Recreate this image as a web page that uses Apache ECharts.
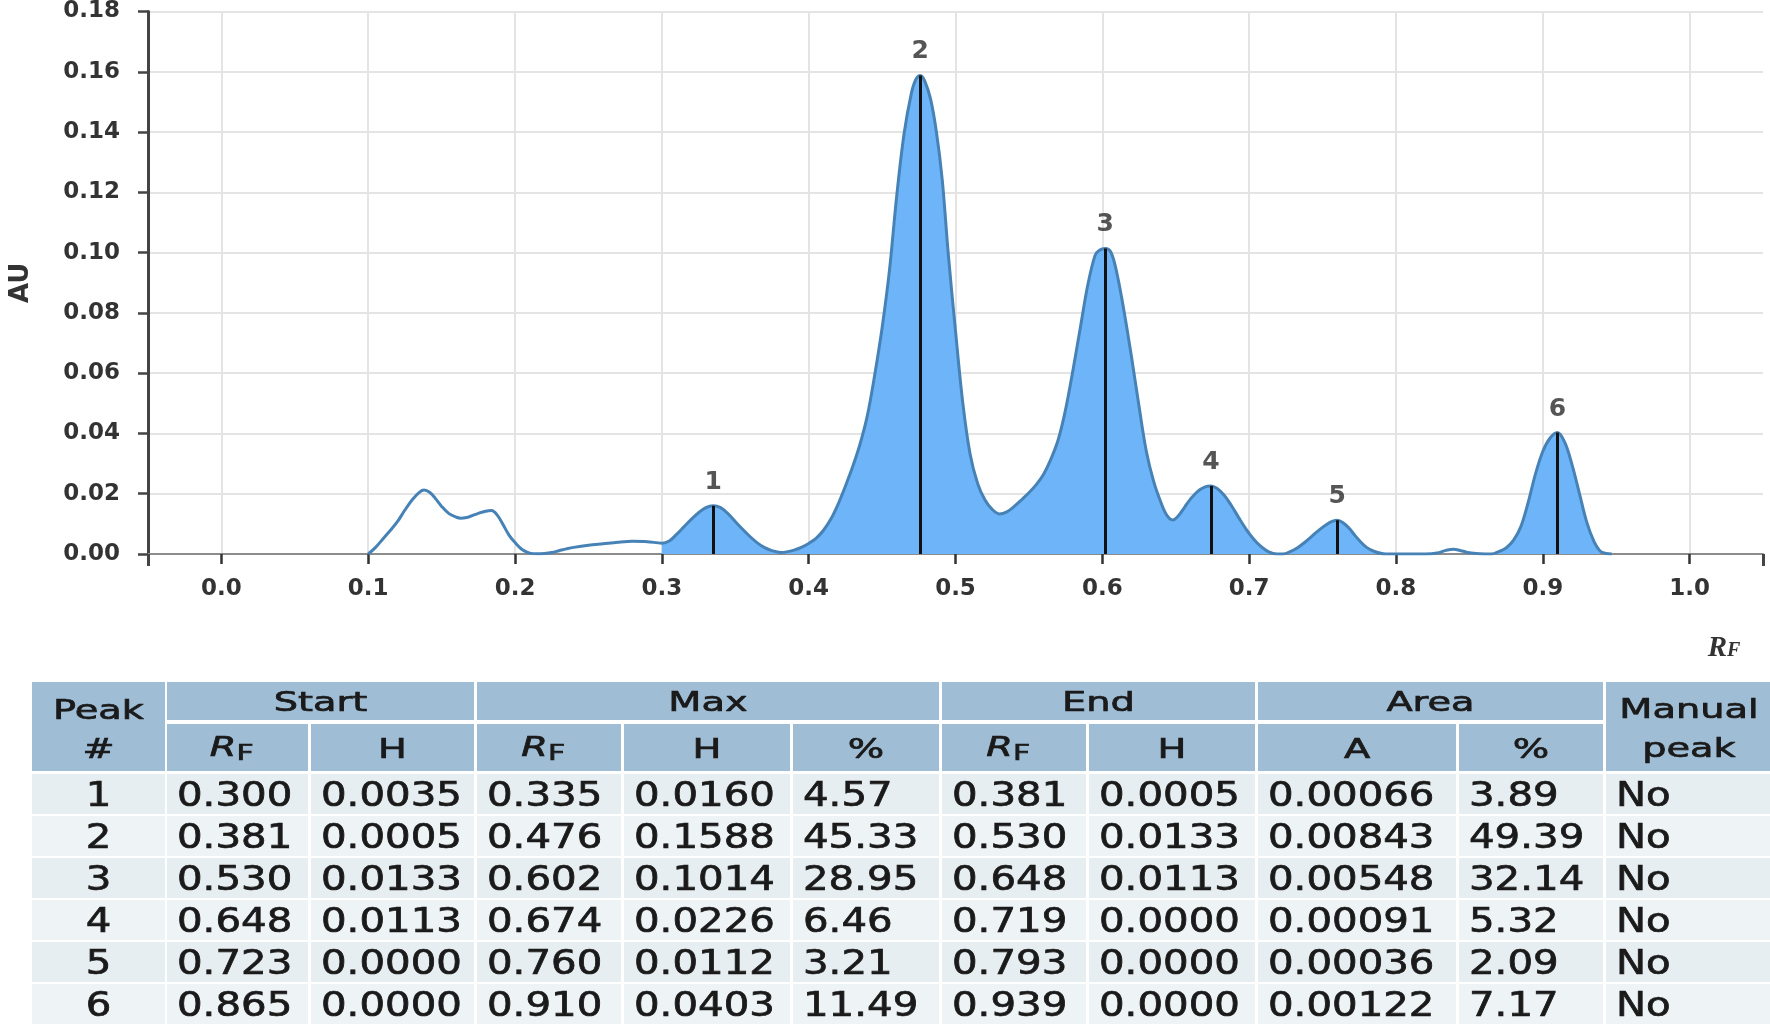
<!DOCTYPE html>
<html><head><meta charset="utf-8">
<script src="https://cdn.jsdelivr.net/npm/echarts@6/dist/echarts.min.js"></script>
<style>html,body{margin:0;padding:0;background:#fff}#c{width:1770px;height:1026px}</style>
</head><body><div id="c"></div>
<script>
// ---- densitogram (RF vs AU) ----
const rf = [
0.100,0.105,0.110,0.115,0.120,0.125,0.130,0.135,0.138,0.142,
0.146,0.150,0.155,0.160,0.163,0.167,0.170,0.175,0.180,0.184,
0.188,0.192,0.196,0.200,0.205,0.210,0.215,0.220,0.225,0.230,
0.235,0.240,0.250,0.260,0.270,0.280,0.290,0.300,0.305,0.310,
0.315,0.320,0.325,0.330,0.335,0.340,0.345,0.350,0.355,0.360,
0.365,0.370,0.375,0.381,0.385,0.390,0.395,0.400,0.405,0.410,
0.415,0.420,0.425,0.430,0.435,0.440,0.445,0.450,0.455,0.460,
0.465,0.470,0.473,0.476,0.479,0.483,0.487,0.491,0.495,0.500,
0.505,0.510,0.515,0.520,0.525,0.530,0.535,0.540,0.545,0.550,
0.555,0.560,0.565,0.570,0.575,0.580,0.585,0.590,0.595,0.598,
0.602,0.606,0.610,0.615,0.620,0.625,0.630,0.635,0.640,0.644,
0.648,0.652,0.656,0.660,0.665,0.670,0.674,0.678,0.683,0.688,
0.693,0.698,0.703,0.708,0.713,0.719,0.723,0.728,0.733,0.738,
0.743,0.748,0.753,0.757,0.760,0.764,0.768,0.772,0.776,0.780,
0.785,0.793,0.800,0.810,0.820,0.828,0.834,0.839,0.845,0.850,
0.857,0.865,0.870,0.875,0.880,0.885,0.890,0.895,0.900,0.905,
0.910,0.915,0.920,0.925,0.930,0.935,0.939,0.943,0.947
];
const au = [
0.0000,0.0022,0.0050,0.0078,0.0108,0.0146,0.0180,0.0205,0.0212,0.0204,
0.0183,0.0158,0.0134,0.0122,0.0119,0.0121,0.0126,0.0135,0.0142,0.0144,
0.0128,0.0096,0.0062,0.0038,0.0014,0.0003,0.0001,0.0002,0.0005,0.0011,
0.0017,0.0022,0.0029,0.0034,0.0039,0.0042,0.0041,0.0036,0.0043,0.0065,
0.0090,0.0115,0.0137,0.0154,0.0160,0.0154,0.0134,0.0108,0.0082,0.0058,
0.0037,0.0021,0.0011,0.0005,0.0007,0.0013,0.0022,0.0035,0.0052,0.0078,
0.0115,0.0165,0.0225,0.0290,0.0365,0.0460,0.0595,0.0750,0.0940,0.1190,
0.1395,0.1530,0.1575,0.1588,0.1570,0.1510,0.1400,0.1240,0.1000,0.0740,
0.0500,0.0330,0.0235,0.0180,0.0148,0.0133,0.0140,0.0158,0.0180,0.0203,
0.0230,0.0265,0.0315,0.0380,0.0480,0.0610,0.0750,0.0890,0.0990,0.1008,
0.1014,0.1000,0.0930,0.0800,0.0650,0.0490,0.0340,0.0240,0.0170,0.0128,
0.0113,0.0128,0.0155,0.0182,0.0208,0.0223,0.0226,0.0218,0.0195,0.0160,
0.0120,0.0082,0.0050,0.0025,0.0008,0.0000,0.0000,0.0008,0.0021,0.0039,
0.0060,0.0081,0.0099,0.0109,0.0112,0.0104,0.0086,0.0062,0.0040,0.0022,
0.0009,0.0000,0.0000,0.0000,0.0000,0.0003,0.0012,0.0016,0.0010,0.0004,
0.0001,0.0000,0.0008,0.0020,0.0045,0.0090,0.0170,0.0265,0.0340,0.0385,
0.0403,0.0370,0.0295,0.0200,0.0105,0.0040,0.0010,0.0002,0.0000
];
const xTicks = [0.0,0.1,0.2,0.3,0.4,0.5,0.6,0.7,0.8,0.9,1.0];
const xEnds = [-0.05, 1.05];

// ---- peak table ----
const peakNo  = [1,2,3,4,5,6];
const startRf = [0.300,0.381,0.530,0.648,0.723,0.865];
const startH  = [0.0035,0.0005,0.0133,0.0113,0.0000,0.0000];
const maxRf   = [0.335,0.476,0.602,0.674,0.760,0.910];
const maxH    = [0.0160,0.1588,0.1014,0.0226,0.0112,0.0403];
const maxPct  = [4.57,45.33,28.95,6.46,3.21,11.49];
const endRf   = [0.381,0.530,0.648,0.719,0.793,0.939];
const endH    = [0.0005,0.0133,0.0113,0.0000,0.0000,0.0000];
const areaA   = [0.00066,0.00843,0.00548,0.00091,0.00036,0.00122];
const areaPct = [3.89,49.39,32.14,5.32,2.09,7.17];
const manual  = ['No','No','No','No','No','No'];
const groupHeaders = ['Start','Max','End','Area'];
const subHeaders = ['RF','H','RF','H','%','RF','H','A','%'];

const FILL = '#6db5f8', STROKE = '#4682b6', FONT = 'DejaVu Sans';
const SMOOTH = 0.35;
const curve = rf.map((x,i)=>[x,au[i]]);

// merge adjacent peak ranges (end of one == start of next) so fills have no seams
const ranges = [];
peakNo.forEach((n,i)=>{
  const last = ranges[ranges.length-1];
  if (last && Math.abs(last[1]-startRf[i])<1e-9) last[1] = endRf[i];
  else ranges.push([startRf[i], endRf[i]]);
});
const fillSeries = ranges.map((r,k)=>({
  type:'line', name:'fill'+k,
  data: curve.filter(p => p[0] >= r[0]-1e-9 && p[0] <= r[1]+1e-9),
  smooth:SMOOTH, symbol:'none', showSymbol:false,
  lineStyle:{width:0, opacity:0}, areaStyle:{color:FILL, opacity:1},
  z:2, silent:true
}));

// ---- table graphics ----
const colX = [32,167,311,477,624,793,942,1089,1258,1459,1606];
const colW = [133,141,163,144,166,146,144,166,198,144,170];
const HDR = '#9fbdd5', ROW1 = '#e7eef2', ROW2 = '#eef3f6', TXT = '#1a1a1a';
const HS = 1.42, DS = 1.22;
const g = [];
function rect(x,y,w,h,fill){ g.push({type:'rect', shape:{x,y,width:w,height:h}, style:{fill}, silent:true, z:10}); }
function txt(s,x,y,opt){
  opt = opt||{};
  g.push({type:'text', x, y, scaleX: opt.sx||1, silent:true, z:11,
    style:{text:s, fontSize:opt.fs||27, fontFamily:FONT, fontStyle:opt.it?'italic':'normal',
      fontWeight:'normal', fill:TXT, stroke:TXT, lineWidth:0.7,
      textAlign:opt.al||'center', align:opt.al||'center',
      textVerticalAlign:'middle', verticalAlign:'middle'}});
}
function rfText(cx,cy){
  txt('R', cx-1, cy-2, {fs:27, it:true, sx:HS, al:'right'});
  txt('F', cx-1, cy+4, {fs:21, sx:HS, al:'left'});
}
const spanCols = [[1,2],[3,5],[6,7],[8,9]];
// header row 1
rect(colX[0],682,colW[0],89,HDR);
txt('Peak', colX[0]+colW[0]/2, 712, {sx:HS});
txt('#', colX[0]+colW[0]/2, 751, {sx:HS});
spanCols.forEach((sp,k)=>{
  const x0 = colX[sp[0]], x1 = colX[sp[1]]+colW[sp[1]];
  rect(x0,682,x1-x0,38,HDR);
  txt(groupHeaders[k], (x0+x1)/2, 704, {sx:HS});
});
rect(colX[10],682,colW[10],89,HDR);
txt('Manual', colX[10]+colW[10]/2-2, 711, {sx:HS});
txt('peak', colX[10]+colW[10]/2-2, 750, {sx:HS});
// header row 2
subHeaders.forEach((s,k)=>{
  const c = k+1;
  rect(colX[c],724,colW[c],47,HDR);
  if (s==='RF') rfText(colX[c]+colW[c]/2, 751);
  else txt(s, colX[c]+colW[c]/2, 751, {sx:HS});
});
// data rows
peakNo.forEach((n,i)=>{
  const y = 774 + i*42, cy = y + 23;
  const vals = [String(n), startRf[i].toFixed(3), startH[i].toFixed(4), maxRf[i].toFixed(3),
    maxH[i].toFixed(4), maxPct[i].toFixed(2), endRf[i].toFixed(3), endH[i].toFixed(4),
    areaA[i].toFixed(5), areaPct[i].toFixed(2), manual[i]];
  vals.forEach((v,c)=>{
    rect(colX[c], y, colW[c], 40, i%2 ? ROW2 : ROW1);
    if (c===0) txt(v, colX[c]+colW[c]/2, cy, {fs:33, sx:DS});
    else txt(v, colX[c]+10, cy, {fs:33, sx:DS, al:'left'});
  });
});
// axis name RF (italic R, small F)
g.push({type:'text', x:1727, y:649, silent:true, z:11,
  style:{text:'R', fontSize:29, fontFamily:'Liberation Serif', fontStyle:'italic', fontWeight:'bold',
    fill:'#333', textAlign:'right', align:'right', textVerticalAlign:'middle', verticalAlign:'middle'}});
g.push({type:'text', x:1727, y:651, silent:true, z:11,
  style:{text:'F', fontSize:20, fontFamily:'Liberation Serif', fontStyle:'italic', fontWeight:'bold',
    fill:'#333', textAlign:'left', align:'left', textVerticalAlign:'middle', verticalAlign:'middle'}});

const labelFont = {fontFamily:FONT, fontSize:23, fontWeight:'bold', color:'#333'};
const option = {
  animation:false,
  backgroundColor:'#fff',
  grid:{left:147, right:7, top:11, bottom:472, containLabel:false},
  xAxis:[{
    type:'value', min:-0.05, max:1.05,
    axisLine:{show:true, onZero:false, lineStyle:{color:'#8c8c8c', width:2}},
    axisTick:{show:true, customValues:xTicks, length:10, lineStyle:{color:'#333', width:2.5}},
    axisLabel:Object.assign({customValues:xTicks, margin:24, formatter:v=>Number(v).toFixed(1)}, labelFont),
    splitLine:{show:true, lineStyle:{color:'#e4e4e4', width:2}}
  },{
    type:'value', min:-0.05, max:1.05, position:'bottom', offset:0,
    axisLine:{show:false, onZero:false},
    axisTick:{show:true, customValues:xEnds, length:12, lineStyle:{color:'#444', width:3}},
    axisLabel:{show:false}, splitLine:{show:false}
  }],
  yAxis:{
    type:'value', min:0, max:0.18, interval:0.02,
    name:'AU', nameLocation:'middle', nameGap:114,
    nameTextStyle:{fontFamily:FONT, fontSize:26, fontWeight:'bold', color:'#333'},
    axisLine:{show:true, onZero:false, lineStyle:{color:'#444', width:3}},
    axisTick:{show:true, length:10, lineStyle:{color:'#444', width:2.5}},
    axisLabel:Object.assign({margin:28, formatter:v=>Number(v).toFixed(2)}, labelFont),
    splitLine:{show:true, lineStyle:{color:'#e4e4e4', width:2}}
  },
  series: fillSeries.concat([
    {
      type:'line', name:'curve', data:curve, smooth:SMOOTH,
      symbol:'none', showSymbol:false, z:3, silent:true,
      lineStyle:{color:STROKE, width:3},
      markLine:{
        silent:true, symbol:['none','none'], animation:false,
        label:{show:false}, lineStyle:{color:'#111', width:3, type:'solid'},
        data: peakNo.map((n,i)=>[{coord:[maxRf[i],0]},{coord:[maxRf[i],maxH[i]]}])
      }
    },
    {
      type:'scatter', name:'labels', z:5, silent:true, symbol:'circle', symbolSize:2,
      itemStyle:{color:'rgba(0,0,0,0)'},
      data: peakNo.map((n,i)=>[maxRf[i],maxH[i],n]),
      label:{show:true, position:'top', distance:10, formatter:p=>String(p.value[2]),
        fontFamily:FONT, fontSize:25, fontWeight:'bold', color:'#2a2a2a'}
    }
  ]),
  graphic:{elements:g}
};
const chart = echarts.init(document.getElementById('c'));
chart.setOption(option);
</script></body></html>
